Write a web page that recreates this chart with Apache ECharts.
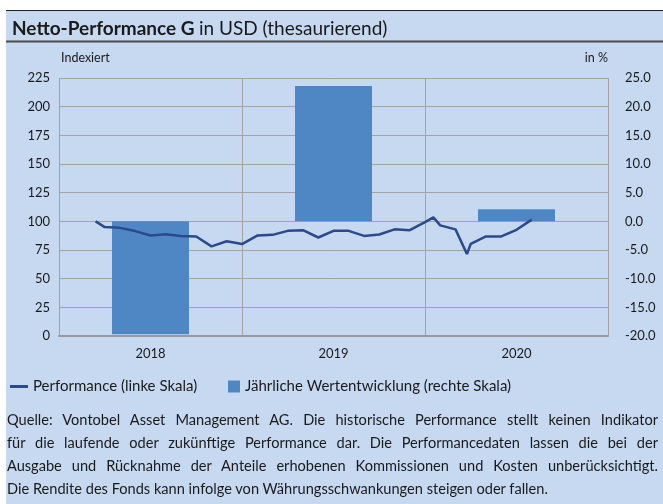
<!DOCTYPE html>
<html>
<head>
<meta charset="utf-8">
<script src="https://cdn.jsdelivr.net/npm/echarts@6/dist/echarts.min.js"></script>
<style>
  body { margin: 0; background: #fff; }
  #chart { position: absolute; left: 0; top: 0; width: 663px; height: 504px; }
  #note {
    position: absolute; left: 7px; top: 408px; width: 651px;
    font-family: Lato, sans-serif; font-size: 14.6px; line-height: 23px;
    color: #1a1a1a;
  }
  #note div { text-align: justify; text-align-last: justify; white-space: nowrap; }
  #note div.last { text-align: left; text-align-last: left; }
</style>
</head>
<body>
<div id="chart"></div>
<div id="note">
  <div>Quelle: Vontobel Asset Management AG. Die historische Performance stellt keinen Indikator</div>
  <div>für die laufende oder zukünftige Performance dar. Die Performancedaten lassen die bei der</div>
  <div>Ausgabe und Rücknahme der Anteile erhobenen Kommissionen und Kosten unberücksichtigt.</div>
  <div class="last">Die Rendite des Fonds kann infolge von Währungsschwankungen steigen oder fallen.</div>
</div>
<script>
$ = window.$ || function (f) { f(); };

// Jahre und jährliche Wertentwicklung in %
var years = ['2018', '2019', '2020'];
var yearlyReturn = [-19.7, 23.6, 2.1];

// Performance-Linie: Monate ab Anfang 2018 und indexierter Wert
var months = [2.4, 3, 4, 5, 6, 7, 8, 9, 10, 11, 12,
              13, 14, 15, 16, 17, 18, 19, 20, 21, 22, 23, 24,
              24.55, 25, 26, 26.75, 27, 28, 29, 30, 31];
var perf = [100, 95, 94.3, 91.5, 87.6, 88.8, 87.2, 86.8, 78.2, 82.6, 80.2,
            87.6, 88.2, 91.7, 92.3, 85.9, 91.7, 91.7, 87.3, 88.5, 93, 92.3, 99.3,
            103.5, 96.5, 93, 71.5, 80.3, 86.8, 86.8, 92.6, 101.5];

var leftTicks = { min: 0, max: 225, interval: 25 };
var rightTicks = { min: -20, max: 25, interval: 5 };

var perfData = months.map(function (m, i) { return [m, perf[i]]; });

var bg = '#c6d9f1';
var grey = '#a3a3a3';
var txt = '#1a1a1a';
var font = 'Lato, sans-serif';

$(function () {
    var myChart = echarts.init(document.getElementById('chart'));
    var option = {
        backgroundColor: '#fff',
        textStyle: { fontFamily: font },
        animation: false,
        graphic: [
            { type: 'rect', z: -10, shape: { x: 6, y: 10, width: 657, height: 494 }, style: { fill: bg } },
            { type: 'line', z: -5, shape: { x1: 6, y1: 10.5, x2: 663, y2: 10.5 }, style: { stroke: '#222', lineWidth: 1.2 } },
            { type: 'line', z: -5, shape: { x1: 6, y1: 41.5, x2: 663, y2: 41.5 }, style: { stroke: '#4a4a4a', lineWidth: 2 } }
        ],
        title: {
            text: '{b|Netto-Performance G} {n|in USD (thesaurierend)}',
            left: 7,
            top: 14,
            textStyle: {
                rich: {
                    b: { fontFamily: font, fontSize: 19, fontWeight: 'bold', color: txt },
                    n: { fontFamily: font, fontSize: 19, fontWeight: 'normal', color: txt }
                }
            }
        },
        legend: [{
            left: 5,
            top: 374,
            itemWidth: 18,
            itemHeight: 3,
            textStyle: { fontSize: 15, color: txt, fontFamily: font },
            data: [{ name: 'Performance (linke Skala)', icon: 'rect' }]
        }, {
            left: 223,
            top: 374,
            itemWidth: 12,
            itemHeight: 12,
            textStyle: { fontSize: 15, color: txt, fontFamily: font },
            data: [{ name: 'Jährliche Wertentwicklung (rechte Skala)', icon: 'rect' }]
        }],
        grid: { left: 59, right: 55, top: 78, bottom: 168 },
        xAxis: [{
            type: 'category',
            data: years,
            axisTick: { show: false },
            axisLine: { lineStyle: { color: '#999', width: 2 } },
            axisLabel: { color: txt, fontSize: 13, margin: 11 },
            splitLine: { show: true, lineStyle: { color: grey } }
        }, {
            type: 'value',
            min: 0,
            max: 36,
            show: false
        }],
        yAxis: [{
            type: 'value',
            name: 'Indexiert',
            nameGap: 14,
            nameTextStyle: { color: txt, fontSize: 12.5, align: 'left', padding: [0, 0, 0, 2] },
            min: leftTicks.min,
            max: leftTicks.max,
            interval: leftTicks.interval,
            axisLine: { show: false },
            axisTick: { show: false },
            axisLabel: { color: txt, fontSize: 13, margin: 9 },
            splitLine: { lineStyle: { color: grey } }
        }, {
            type: 'value',
            name: 'in %',
            nameGap: 14,
            nameTextStyle: { color: txt, fontSize: 12.5, align: 'right' },
            min: rightTicks.min,
            max: rightTicks.max,
            interval: rightTicks.interval,
            axisLine: { show: false },
            axisTick: { show: false },
            axisLabel: {
                color: txt, fontSize: 13, margin: 17,
                formatter: function (v) { return v.toFixed(1); }
            },
            splitLine: { show: false }
        }],
        series: [{
            name: 'Jährliche Wertentwicklung (rechte Skala)',
            type: 'bar',
            xAxisIndex: 0,
            yAxisIndex: 1,
            barWidth: 77,
            itemStyle: { color: '#4f87c5' },
            data: yearlyReturn
        }, {
            name: 'Performance (linke Skala)',
            type: 'line',
            xAxisIndex: 1,
            yAxisIndex: 0,
            showSymbol: false,
            symbol: 'none',
            lineStyle: { color: '#2b4a8b', width: 2.5 },
            itemStyle: { color: '#2b4a8b' },
            z: 5,
            data: perfData
        }]
    };
    myChart.setOption(option);
});
</script>
</body>
</html>
